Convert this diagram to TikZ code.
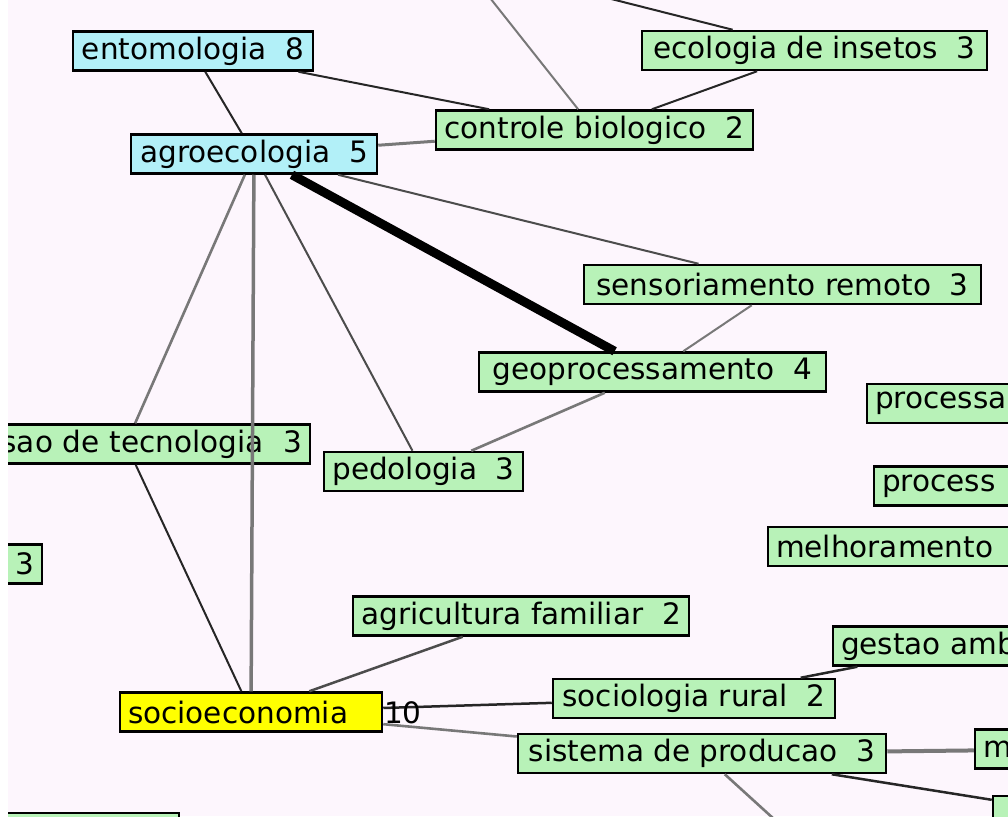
\documentclass[tikz,border=0pt]{standalone}
\usepackage{fontspec}
\setmainfont{DejaVu Sans}
\definecolor{bgpink}{RGB}{253,246,253}
\definecolor{termgreen}{RGB}{184,242,184}
\definecolor{termcyan}{RGB}{178,240,248}
\definecolor{termyellow}{RGB}{255,255,0}
\definecolor{linkgray}{RGB}{120,120,120}

\begin{document}
\begin{tikzpicture}[x=1pt,y=-1pt,
    term/.style = {draw=black, line width=2.5pt, fill=termgreen, minimum height=39pt,
                   inner xsep=8pt, inner ysep=0pt, font=\fontsize{29.5}{30}\selectfont},
    main/.style = {term, fill=termcyan},
    focus/.style = {term, fill=termyellow},
    link/.style = {draw=black!85, line width=2pt},
    glink/.style = {draw=linkgray, line width=2.6pt},
    strong/.style = {draw=black, line width=9pt}]
    \useasboundingbox (0,0) rectangle (1008,816);
    \fill[white] (0,0) rectangle (1008,816);
    \clip (8,0) rectangle (1008,816);
    \fill[bgpink] (8,0) rectangle (1008,816);
    % terms
    \node[main, minimum width=240pt] (ento) at (193,51) {entomologia\ \ 8};
    \node[main, minimum width=246pt] (agro) at (254,154) {agroecologia\ \ 5};
    \node[term, minimum width=317pt] (contr) at (594.5,130) {controle biologico\ \ 2};
    \node[term, minimum width=345pt] (ecol) at (814.5,50.5) {ecologia de insetos\ \ 3};
    \node[term, minimum width=397pt] (senso) at (782.5,284.5) {sensoriamento remoto\ \ 3};
    \node[term, minimum width=347pt] (geo) at (652.5,372) {geoprocessamento\ \ 4};
    \node[term, text width=250pt, align=left] (proc1) at (1000,403.5) {processa};
    \node[term, text width=236pt, align=left] (proc2) at (1000,486) {process};
    \node[term, text width=348pt, align=left] (melh) at (950,546.5) {melhoramento};
    \node[term, text width=352pt, align=right] (difu) at (126,444) {sao de tecnologia\ \ 3};
    \node[term, text width=84pt, align=right] (three) at (-8,564) {3};
    \node[term, minimum width=199pt] (pedo) at (423.5,471.5) {pedologia\ \ 3};
    \node[term, minimum width=328pt] (agri) at (521,616) {agricultura familiar\ \ 2};
    \node[term, text width=246pt, align=left] (gest) at (964,646) {gestao amb};
    \node[focus, text width=246pt, align=left] (socio) at (251,712) {socioeconomia};
    \node[term, minimum width=282pt] (sociol) at (694,698.5) {sociologia rural\ \ 2};
    \node[term, minimum width=368pt] (sist) at (702,753.5) {sistema de producao\ \ 3};
    \node[term, text width=234pt, align=left] (mterm) at (1100,749) {m};
    \node[term, minimum width=214pt, minimum height=42pt] (bright) at (1100,817) {};
    \node[term, minimum width=238pt, minimum height=42pt] (bleft) at (60,834) {};
    \coordinate (up1) at (460,-40);
    \coordinate (up2) at (560,-14);
    \coordinate (down1) at (830,870);
    % links
    \draw[link] (ento) -- (agro);
    \draw[link] (ento) -- (contr);
    \draw[glink, line width=3pt] (agro) -- (contr);
    \draw[glink, line width=2pt] (up1) -- (contr);
    \draw[link] (up2) -- (ecol);
    \draw[link] (contr) -- (ecol);
    \draw[strong] (agro) -- (geo);
    \draw[link, draw=black!70] (agro) -- (senso);
    \draw[glink, line width=2pt] (senso) -- (geo);
    \draw[link, draw=black!70] (agro) -- (pedo);
    \draw[glink, line width=3.5pt] (agro) -- (socio);
    \draw[glink] (agro) -- (difu);
    \draw[link] (difu) -- (socio);
    \draw[glink] (pedo) -- (geo);
    \draw[link, draw=black!70, line width=2.5pt] (agri) -- (socio);
    \draw[link, line width=2.5pt] (socio) -- (sociol);
    \draw[glink] (socio) -- (sist);
    \draw[link, line width=2.5pt] (sociol) -- (gest);
    \draw[glink, line width=4pt] (sist) -- (mterm);
    \draw[link, line width=2.5pt] (sist) -- (bright);
    \draw[glink] (sist) -- (down1);
    \node[anchor=west, inner sep=0pt, font=\fontsize{29.5}{30}\selectfont] (socnum) at (384,713) {10};
\end{tikzpicture}
\end{document}
